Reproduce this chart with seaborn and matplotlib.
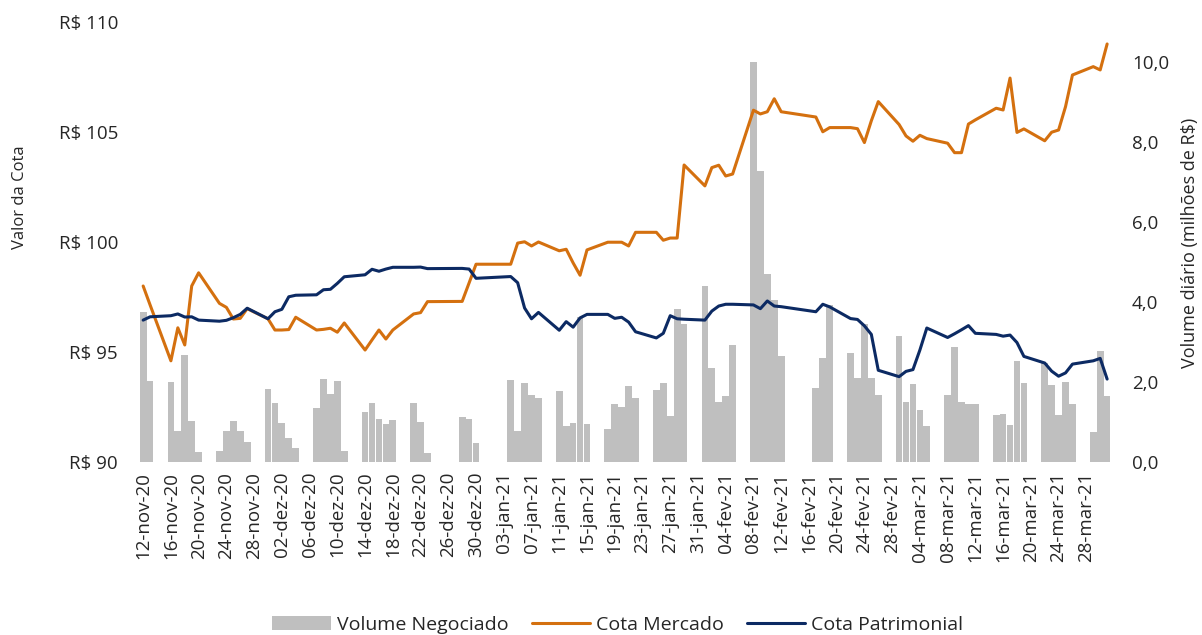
import pandas as pd
import matplotlib
matplotlib.use('Agg')
import matplotlib.pyplot as plt
import seaborn as sns

# pregões (sem feriados da B3)
feriados = ['2020-12-24', '2020-12-25', '2020-12-31', '2021-01-01', '2021-02-15', '2021-02-16']
datas = pd.bdate_range('2020-11-12', '2021-03-31', freq='C', holidays=feriados)

# volume diário (milhões de R$)
volume = [3.76, 2.03,
          2.00, 0.78, 2.67, 1.02, 0.24,
          0.27, 0.78, 1.02, 0.78, 0.51,
          1.82, 1.47, 0.97, 0.61, 0.36,
          1.36, 2.07, 1.70, 2.02, 0.27,
          1.26, 1.47, 1.08, 0.95, 1.05,
          1.47, 1.01, 0.22,
          1.12, 1.07, 0.48,
          2.05, 0.77, 1.97, 1.67, 1.61,
          1.77, 0.89, 0.97, 3.63, 0.96,
          0.83, 1.45, 1.38, 1.90, 1.61,
          1.80, 1.98, 1.16, 3.82, 3.44,
          4.40, 2.36, 1.50, 1.64, 2.93,
          10.01, 7.28, 4.70, 4.05, 2.66,
          1.86, 2.60, 3.93,
          2.72, 2.11, 3.44, 2.09, 1.67,
          3.16, 1.50, 1.96, 1.31, 0.90,
          1.68, 2.88, 1.50, 1.45, 1.44,
          1.17, 1.19, 0.92, 2.53, 1.98,
          2.48, 1.93, 1.17, 1.99, 1.45,
          0.76, 2.77, 1.65]

cota_mercado = [98.00, 97.14,
                94.60, 96.10, 95.32, 98.00, 98.60,
                97.21, 97.03, 96.50, 96.53, 96.97,
                96.51, 96.00, 96.00, 96.02, 96.58,
                96.00, 96.03, 96.08, 95.90, 96.32,
                95.09, 95.55, 96.00, 95.59, 96.00,
                96.73, 96.79, 97.29,
                97.30, 98.14, 98.99,
                98.99, 99.95, 100.01, 99.82, 100.00,
                99.60, 99.67, 99.05, 98.49, 99.64,
                99.99, 99.99, 99.99, 99.82, 100.44,
                100.44, 100.08, 100.18, 100.18, 103.50,
                102.55, 103.38, 103.49, 103.00, 103.09,
                105.99, 105.82, 105.92, 106.51, 105.92,
                105.68, 105.01, 105.20,
                105.20, 105.15, 104.52, 105.51, 106.38,
                105.34, 104.82, 104.58, 104.85, 104.70,
                104.49, 104.06, 104.06, 105.36, 105.55,
                106.08, 106.00, 107.45, 104.98, 105.14,
                104.60, 104.99, 105.09, 106.15, 107.59,
                107.97, 107.82, 109.00]

cota_patrimonial = [96.45, 96.60,
                    96.65, 96.73, 96.59, 96.60, 96.45,
                    96.40, 96.44, 96.56, 96.71, 96.99,
                    96.51, 96.83, 96.94, 97.51, 97.58,
                    97.60, 97.83, 97.85, 98.12, 98.42,
                    98.51, 98.76, 98.67, 98.77, 98.85,
                    98.85, 98.86, 98.79,
                    98.80, 98.77, 98.35,
                    98.43, 98.15, 97.00, 96.51, 96.80,
                    95.99, 96.38, 96.13, 96.55, 96.71,
                    96.71, 96.53, 96.58, 96.36, 95.92,
                    95.64, 95.85, 96.65, 96.51, 96.49,
                    96.45, 96.86, 97.09, 97.17, 97.17,
                    97.14, 96.97, 97.32, 97.09, 97.06,
                    96.83, 97.17, 97.05,
                    96.52, 96.48, 96.19, 95.80, 94.17,
                    93.88, 94.12, 94.20, 95.09, 96.09,
                    95.66, 95.83, 96.01, 96.20, 95.85,
                    95.80, 95.72, 95.77, 95.43, 94.80,
                    94.50, 94.13, 93.90, 94.05, 94.45,
                    94.60, 94.71, 93.77]

meses = {11: 'nov', 12: 'dez', 1: 'jan', 2: 'fev', 3: 'mar'}
ticks = pd.date_range('2020-11-12', '2021-03-28', freq='4D')
tick_labels = [f"{d.day:02d}-{meses[d.month]}-{d.strftime('%y')}" for d in ticks]

df = pd.DataFrame({'data': datas, 'volume': volume,
                   'mercado': cota_mercado, 'patrimonial': cota_patrimonial})

sns.set_style('white')
plt.rcParams['font.family'] = ['Open Sans', 'DejaVu Sans']

fig = plt.figure(figsize=(12.02, 6.35), dpi=100)
ax = fig.add_axes([0.112, 0.2724, 0.816, 0.693])
ax2 = ax.twinx()

ax2.bar(df['data'], df['volume'], width=0.97, color='#BFBFBF', linewidth=0,
        label='Volume Negociado')
sns.lineplot(data=df, x='data', y='mercado', ax=ax, color='#D4700F', lw=2.2,
             label='Cota Mercado')
sns.lineplot(data=df, x='data', y='patrimonial', ax=ax, color='#0C2A63', lw=2.2,
             label='Cota Patrimonial')
ax.set_zorder(ax2.get_zorder() + 1)
ax.patch.set_visible(False)

h1, l1 = ax2.get_legend_handles_labels()
h2, l2 = ax.get_legend_handles_labels()
ax.get_legend().remove()

inicio = pd.Timestamp('2020-11-12')
ax.set_xlim(inicio - pd.Timedelta(days=1.23), inicio + pd.Timedelta(days=140.2))
ax.set_xticks(ticks)
ax.set_xticklabels(tick_labels, rotation=90, fontsize=13.5)
ax.set_xlabel('')

ax.set_ylim(90, 110)
ax.set_yticks([90, 95, 100, 105, 110])
ax.set_yticklabels([f'R$ {v}' for v in [90, 95, 100, 105, 110]], fontsize=13.5)
ax.set_ylabel('')

ax2.set_ylim(0, 11)
ax2.set_yticks([0, 2, 4, 6, 8, 10])
ax2.set_yticklabels([f'{v:.1f}'.replace('.', ',') for v in [0, 2, 4, 6, 8, 10]], fontsize=13.5)

for a in (ax, ax2):
    for s in a.spines.values():
        s.set_visible(False)
    a.tick_params(length=0)
ax.tick_params(axis='y', pad=12)
ax.tick_params(axis='x', pad=7)
ax2.tick_params(axis='y', pad=12)

fig.text(0.017, 0.69, 'Valor da Cota', rotation=90, ha='center', va='center', fontsize=12)
fig.text(0.99, 0.617, 'Volume diário (milhões de R$)', rotation=90, ha='center', va='center',
         fontsize=13)

fig.legend(h1 + h2, l1 + l2, loc='center', bbox_to_anchor=(0.514, 0.016), ncol=3,
           frameon=False, fontsize=14, handlelength=3, columnspacing=1.2, handletextpad=0.3)

fig.savefig('out.png', dpi=100)
